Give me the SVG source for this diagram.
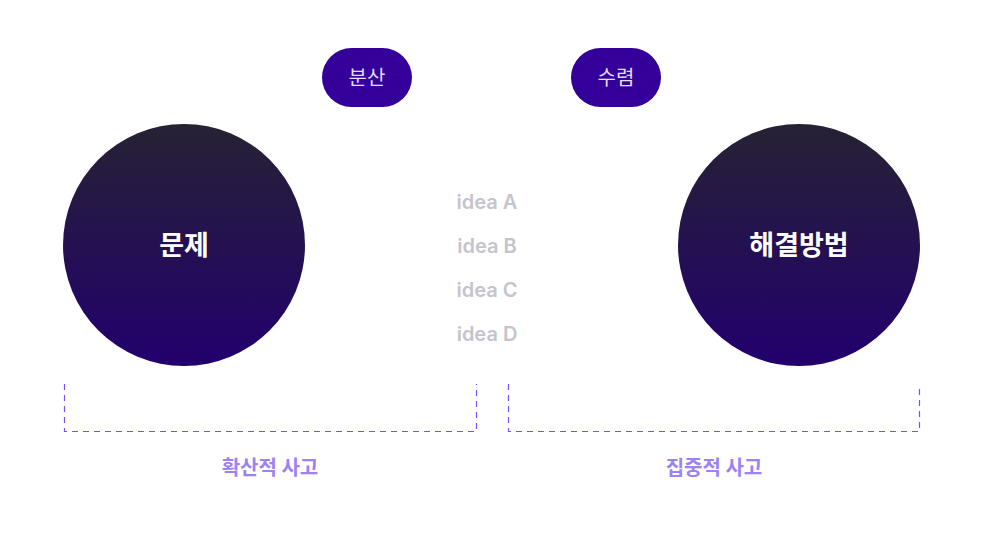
<svg xmlns="http://www.w3.org/2000/svg" width="984" height="533" viewBox="0 0 984 533">
<style>
.pill{fill:#330099}
.pt{font-family:"Noto Sans CJK KR","Noto Sans",sans-serif;font-size:20px;fill:#e6dcff;text-anchor:middle}
.ct{font-family:"Noto Sans CJK KR","Noto Sans",sans-serif;font-size:27px;font-weight:bold;fill:#fff;text-anchor:middle}
.idea{font-family:Inter,"Noto Sans",sans-serif;font-size:20px;font-weight:600;fill:#c4c4cc;text-anchor:middle}
.lb{font-family:"Noto Sans CJK KR","Noto Sans",sans-serif;font-size:20px;font-weight:bold;fill:#9b82f5;text-anchor:middle}
.br{fill:none;stroke:#7a50f0;stroke-width:1.2;stroke-dasharray:6 5}
</style>
<defs><linearGradient id="g" x1="0" y1="0" x2="0" y2="1"><stop offset="0" stop-color="#262233"/><stop offset="1" stop-color="#22006e"/></linearGradient></defs>
<g id="n-bunsan"><rect class="pill" x="322" y="48" width="90" height="59" rx="29.5"/><text class="pt" x="367" y="85">분산</text></g>
<g id="n-suryeom"><rect class="pill" x="571" y="48" width="90" height="59" rx="29.5"/><text class="pt" x="616" y="85">수렴</text></g>
<g id="n-problem"><circle cx="184" cy="245" r="121" fill="url(#g)"/><text class="ct" x="184" y="255">문제</text></g>
<g id="n-solution"><circle cx="799" cy="245" r="121" fill="url(#g)"/><text class="ct" x="799" y="255">해결방법</text></g>
<g id="n-ideas">
<text class="idea" x="487" y="209">idea A</text>
<text class="idea" x="487" y="253">idea B</text>
<text class="idea" x="487" y="297">idea C</text>
<text class="idea" x="487" y="341">idea D</text>
</g>
<g id="connectors">
<path class="br" d="M64.5 384V431.5H476.5V384"/>
<path class="br" d="M508.5 384V431.5H919.5V384" stroke="#8a8a9a"/>
</g>
<g id="labels">
<text class="lb" x="270" y="475">확산적 사고</text>
<text class="lb" x="714" y="475">집중적 사고</text>
</g>
</svg>
